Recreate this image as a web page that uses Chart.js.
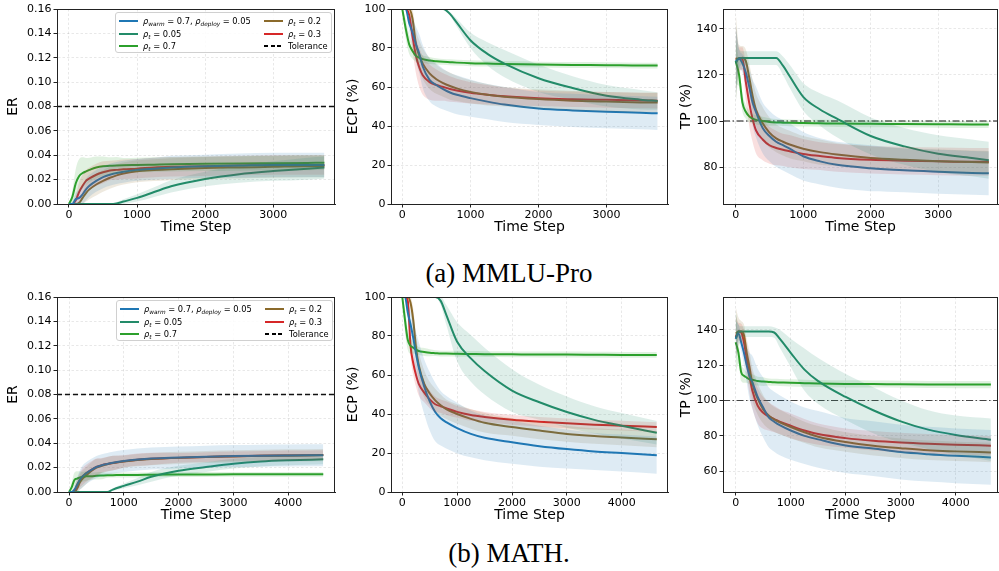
<!DOCTYPE html>
<html>
<head>
<meta charset="utf-8">
<script src="https://cdn.jsdelivr.net/npm/chart.js@4.4.1/dist/chart.umd.min.js"></script>
<style>
  body { margin:0; background:#fff; }
  #fig { position:relative; width:999px; height:571px; overflow:hidden; font-family:"DejaVu Sans", sans-serif; }
  .cap { position:absolute; left:0; width:1018px; text-align:center; font-family:"Liberation Serif", serif; font-size:27px; line-height:27px; color:#000; }
  .leg { position:absolute; width:215px; height:39px; border:1px solid #d0d0d0; border-radius:3px; background:rgba(255,255,255,0.85); font-size:8.3px; color:#000; z-index:2; }
  .item { position:absolute; height:10px; line-height:10px; white-space:nowrap; }
  .sw { position:absolute; left:0; top:4px; width:19px; height:2px; }
  .txt { position:absolute; left:24px; top:0; }
  .txt i { font-style:oblique; }
  sub { font-size:70%; vertical-align:-2px; line-height:0; font-style:oblique; }
</style>
</head>
<body>
<div id="fig">
  <div class="cap" style="top:260px">(a) MMLU-Pro</div>
  <div class="cap" style="top:540px">(b) MATH.</div>
</div>
<script>
// time steps
const tMMLU = [0, 50, 100, 150, 200, 250, 300, 400, 500, 600, 700, 800, 1000, 1250, 1500, 2000, 2500, 3000, 3500, 3750];
const tMATH = [0, 50, 100, 150, 200, 250, 300, 400, 500, 600, 700, 800, 1000, 1250, 1500, 2000, 2500, 3000, 3500, 4000, 4640];

const erTolerance = 0.08;
const tpTarget = 100;

// ---- MMLU-Pro : ER
const erMmluWarm = [0, 0, 0.004, 0.005, 0.008, 0.012, 0.015, 0.019, 0.022, 0.024, 0.0255, 0.0265, 0.028, 0.029, 0.030, 0.031, 0.0315, 0.032, 0.032, 0.032];
const erMmluWarmSd = [0, 0.002, 0.005, 0.007, 0.008, 0.009, 0.009, 0.009, 0.009, 0.009, 0.009, 0.009, 0.009, 0.009, 0.0095, 0.0095, 0.01, 0.01, 0.01, 0.01];
const erMmluP005 = [0, 0, 0, 0, 0, 0, 0, 0, 0, 0, 0.0005, 0.002, 0.005, 0.0098, 0.0145, 0.0205, 0.0245, 0.027, 0.029, 0.030];
const erMmluP005Sd = [0, 0, 0, 0, 0, 0, 0, 0, 0, 0, 0.001, 0.002, 0.003, 0.004, 0.005, 0.006, 0.007, 0.008, 0.009, 0.009];
const erMmluP07 = [0, 0.006, 0.017, 0.023, 0.0254, 0.0268, 0.028, 0.030, 0.031, 0.0313, 0.0316, 0.0318, 0.032, 0.0323, 0.0326, 0.033, 0.0333, 0.0335, 0.0337, 0.0338];
const erMmluP07Sd = [0, 0.005, 0.012, 0.014, 0.013, 0.011, 0.010, 0.009, 0.008, 0.007, 0.007, 0.006, 0.006, 0.006, 0.006, 0.006, 0.006, 0.006, 0.006, 0.006];
const erMmluP02 = [0, 0, 0, 0.001, 0.005, 0.009, 0.012, 0.016, 0.019, 0.0215, 0.0235, 0.025, 0.0268, 0.0278, 0.0285, 0.0295, 0.030, 0.0305, 0.031, 0.031];
const erMmluP02Sd = [0, 0, 0, 0.002, 0.005, 0.007, 0.008, 0.009, 0.009, 0.009, 0.009, 0.009, 0.009, 0.009, 0.009, 0.009, 0.009, 0.009, 0.009, 0.009];
const erMmluP03 = [0, 0, 0.003, 0.010, 0.015, 0.019, 0.021, 0.024, 0.026, 0.0275, 0.028, 0.0285, 0.029, 0.030, 0.0305, 0.031, 0.0315, 0.032, 0.032, 0.032];
const erMmluP03Sd = [0, 0, 0.004, 0.008, 0.009, 0.009, 0.009, 0.009, 0.009, 0.008, 0.008, 0.008, 0.008, 0.008, 0.008, 0.008, 0.008, 0.008, 0.008, 0.008];

// ---- MMLU-Pro : ECP (%)
const ecpMmluWarm = [100, 100, 93, 88, 82, 77, 70.5, 63.7, 61, 58.9, 57.2, 56, 54.3, 52.5, 51, 49, 48, 47.3, 46.8, 46.5];
const ecpMmluWarmSd = [0, 0, 4, 7, 9, 10, 11, 11, 11, 10.5, 10, 10, 9.5, 9, 9, 8.5, 8.5, 8.5, 8.5, 8.5];
const ecpMmluP005 = [100, 100, 100, 100, 100, 100, 100, 100, 100, 100, 97.5, 93, 84, 77, 72, 64.5, 59.5, 55.5, 53.5, 52.8];
const ecpMmluP005Sd = [0, 0, 0, 0, 0, 0, 0, 0, 0, 0, 1, 2, 4, 6, 7, 7, 6, 5.5, 5, 4.5];
const ecpMmluP07 = [100, 90, 82, 78.5, 76, 75, 74.3, 73.6, 73.2, 72.9, 72.7, 72.5, 72.2, 72, 71.8, 71.5, 71.3, 71.2, 71, 71];
const ecpMmluP07Sd = [0, 5, 5, 4, 3, 2.5, 2, 1.8, 1.6, 1.5, 1.5, 1.5, 1.5, 1.5, 1.5, 1.5, 1.5, 1.5, 1.5, 1.5];
const ecpMmluP02 = [100, 100, 100, 95, 82, 76, 72, 67, 64, 62, 60.5, 59.3, 57.5, 56, 55, 53.8, 53, 52.5, 52.1, 52];
const ecpMmluP02Sd = [0, 0, 2, 5, 7, 8, 8, 8, 7.5, 7, 7, 6.5, 6, 5.5, 5, 5, 5, 5, 5, 5];
const ecpMmluP03 = [100, 100, 97, 86, 76, 70, 66, 62.5, 61, 60, 59, 58.2, 57, 56, 55.2, 54.2, 53.7, 53.4, 53.1, 53];
const ecpMmluP03Sd = [0, 0, 3, 7, 9, 10, 10, 9, 8, 7, 6.5, 6, 5.5, 5, 4.5, 4, 4, 4, 4, 4];

// ---- MMLU-Pro : TP (%)
const tpMmluWarm = [126, 127, 125, 121, 115, 108, 104, 97, 93.5, 91, 89.5, 88, 84.7, 82.5, 81, 79.5, 78.6, 78, 77.5, 77.3];
const tpMmluWarmSd = [15, 4, 4, 6, 8, 10, 11, 11, 11, 11, 11, 11, 10.5, 10, 10, 10, 9.5, 9.5, 9.5, 9.5];
const tpMmluP005 = [125, 127.3, 127.3, 127.3, 127.3, 127.3, 127.3, 127.3, 127.3, 127.3, 124, 119.4, 110.5, 105, 101, 93.5, 89, 85.8, 84, 83];
const tpMmluP005Sd = [18, 4, 3, 3, 3, 3, 3, 3, 3, 3, 4, 5, 6, 7, 8, 8, 8, 8, 8, 8];
const tpMmluP07 = [126, 120, 108, 104, 102, 101, 100.5, 100, 99.6, 99.4, 99.3, 99.2, 99.1, 99, 98.9, 98.8, 98.7, 98.6, 98.5, 98.5];
const tpMmluP07Sd = [10, 5, 4, 3, 2.5, 2, 2, 1.8, 1.6, 1.5, 1.5, 1.5, 1.5, 1.5, 1.5, 1.5, 1.5, 1.5, 1.5, 1.5];
const tpMmluP02 = [127, 127, 127.5, 126, 119, 111, 105, 99, 95, 92.5, 91, 89.8, 88, 86.5, 85.5, 84, 83.2, 82.6, 82.2, 82];
const tpMmluP02Sd = [20, 6, 5, 5, 6, 7, 7, 7, 6.5, 6, 6, 6, 5.5, 5.5, 5, 5, 5, 5, 5, 5];
const tpMmluP03 = [127, 127, 127, 117, 108, 101, 96, 92, 89.5, 88.3, 87.5, 86.9, 85.7, 84.8, 84, 83.2, 82.8, 82.5, 82.3, 82.3];
const tpMmluP03Sd = [15, 5, 5, 8, 10, 10, 10, 9, 8, 7.5, 7, 7, 6.5, 6, 6, 6, 6, 6, 6, 6];

// ---- MATH : ER
const erMathWarm = [0, 0, 0.002, 0.006, 0.010, 0.013, 0.015, 0.018, 0.0205, 0.022, 0.023, 0.024, 0.0255, 0.0267, 0.0275, 0.0283, 0.029, 0.0295, 0.0298, 0.030, 0.0302];
const erMathWarmSd = [0, 0, 0.003, 0.006, 0.008, 0.009, 0.009, 0.009, 0.009, 0.009, 0.009, 0.009, 0.009, 0.009, 0.009, 0.009, 0.009, 0.009, 0.009, 0.009, 0.009];
const erMathP005 = [0, 0, 0, 0, 0, 0, 0, 0, 0, 0, 0, 0.002, 0.005, 0.0085, 0.0125, 0.0175, 0.0205, 0.0232, 0.025, 0.026, 0.0268];
const erMathP005Sd = [0, 0, 0, 0, 0, 0, 0, 0, 0, 0, 0, 0.001, 0.002, 0.003, 0.004, 0.004, 0.004, 0.004, 0.004, 0.004, 0.004];
const erMathP07 = [0, 0.004, 0.010, 0.011, 0.012, 0.0125, 0.013, 0.013, 0.0133, 0.0135, 0.0137, 0.0138, 0.014, 0.014, 0.0142, 0.0143, 0.0144, 0.0145, 0.0145, 0.0145, 0.0145];
const erMathP07Sd = [0, 0.004, 0.006, 0.006, 0.005, 0.004, 0.004, 0.003, 0.003, 0.003, 0.002, 0.002, 0.002, 0.002, 0.002, 0.002, 0.002, 0.002, 0.002, 0.002, 0.002];
const erMathP02 = [0, 0, 0, 0.003, 0.008, 0.011, 0.013, 0.017, 0.020, 0.0215, 0.0228, 0.0237, 0.025, 0.0262, 0.027, 0.028, 0.0287, 0.0292, 0.0297, 0.030, 0.0303];
const erMathP02Sd = [0, 0, 0, 0.004, 0.006, 0.007, 0.007, 0.007, 0.007, 0.006, 0.006, 0.006, 0.005, 0.005, 0.005, 0.005, 0.005, 0.005, 0.005, 0.005, 0.005];
const erMathP03 = [0, 0, 0.001, 0.006, 0.010, 0.013, 0.015, 0.018, 0.0205, 0.022, 0.023, 0.0238, 0.0252, 0.0265, 0.0272, 0.028, 0.0287, 0.0293, 0.0297, 0.030, 0.0303];
const erMathP03Sd = [0, 0, 0.002, 0.005, 0.006, 0.007, 0.007, 0.007, 0.007, 0.006, 0.006, 0.006, 0.005, 0.005, 0.005, 0.004, 0.004, 0.004, 0.004, 0.004, 0.004];

// ---- MATH : ECP (%)
const ecpMathWarm = [100, 100, 92, 86, 79, 71, 64, 54, 46.5, 41, 37.8, 35.8, 32.8, 29.8, 27.8, 25.5, 23.5, 22, 20.8, 20, 18.9];
const ecpMathWarmSd = [0, 0, 4, 7, 9, 11, 13, 14, 15, 15, 14, 13.5, 13, 12, 11.5, 11, 10.5, 10, 9.5, 9.5, 9.5];
const ecpMathP005 = [100, 100, 100, 100, 100, 100, 100, 100, 100, 100, 98, 91, 77, 68.5, 62, 52, 46, 41, 37, 34, 30.4];
const ecpMathP005Sd = [0, 0, 0, 0, 0, 0, 0, 0, 0, 0, 2, 5, 10, 12, 12, 11, 9, 8, 7, 6.5, 6];
const ecpMathP07 = [100, 88, 78, 75, 74, 73, 72.3, 71.8, 71.4, 71.2, 71, 71, 70.9, 70.8, 70.7, 70.6, 70.5, 70.5, 70.4, 70.3, 70.3];
const ecpMathP07Sd = [0, 6, 5, 4, 3, 2.5, 2, 2, 1.8, 1.5, 1.5, 1.5, 1.5, 1.5, 1.5, 1.5, 1.5, 1.5, 1.5, 1.5, 1.5];
const ecpMathP02 = [100, 100, 100, 97, 88, 74, 65, 55.5, 50.5, 47, 44.5, 42.5, 40, 37.5, 35.5, 33.3, 31.5, 29.8, 28.7, 28, 27];
const ecpMathP02Sd = [0, 0, 0, 3, 6, 7, 7, 7, 6, 6, 5.5, 5, 5, 5, 5, 4.5, 4.5, 4, 4, 4, 4];
const ecpMathP03 = [100, 100, 98, 75, 66, 60, 55.5, 51, 47.5, 45, 44, 43, 41.1, 39.5, 38.5, 37, 36, 35.2, 34.5, 34, 33.3];
const ecpMathP03Sd = [0, 0, 2, 5, 6, 6, 6, 5, 4.5, 4, 3.5, 3.5, 3, 3, 2.5, 2.5, 2.5, 2.5, 2.5, 2.5, 2.5];

// ---- MATH : TP (%)
const tpMathWarm = [135, 138, 133, 127, 120, 114, 110.5, 102, 96, 90.5, 88, 86, 83, 80, 78, 74.5, 72.8, 70.8, 69.6, 68.7, 67.8];
const tpMathWarmSd = [10, 5, 5, 7, 10, 13, 15, 16, 17, 17, 17, 17, 16.5, 16, 16, 15.5, 15.5, 15.5, 15.5, 15.5, 15.5];
const tpMathP005 = [135, 139, 139, 139, 139, 139, 139, 139, 139, 139, 138.5, 135, 127, 117.5, 111, 102, 94.5, 88.2, 83.5, 80.5, 77.8];
const tpMathP005Sd = [15, 4, 3, 3, 3, 3, 3, 3, 3, 3, 3, 5, 8, 12, 13, 13, 13, 12, 11, 11, 12];
const tpMathP07 = [133, 127, 116, 114, 113, 112, 111.8, 111, 110.7, 110.5, 110.3, 110.2, 110, 109.8, 109.6, 109.4, 109.3, 109.2, 109.1, 109, 109];
const tpMathP07Sd = [18, 6, 5, 4, 3, 3, 3, 2.5, 2.5, 2, 2, 2, 2, 2, 2, 2, 2, 2, 2, 2, 2];
const tpMathP02 = [138, 139, 139, 137, 127, 119, 110, 101, 95, 91.5, 89.3, 87.7, 85, 82, 79.5, 76.5, 74.4, 73, 71.8, 71.2, 70.6];
const tpMathP02Sd = [15, 8, 6, 6, 8, 9, 9, 9, 8, 7.5, 7, 7, 6.5, 6, 6, 5.5, 5.5, 5.5, 5.5, 5.5, 5.5];
const tpMathP03 = [136, 139, 138.5, 133, 123.5, 114, 106, 97, 93, 91, 89.5, 88, 85.7, 83, 81, 78.7, 77.2, 76.2, 75.5, 75, 74.4];
const tpMathP03Sd = [12, 5, 5, 7, 9, 10, 10, 10, 9, 8, 7.5, 7, 7, 6.5, 6, 5.5, 5.5, 5.5, 5.5, 5.5, 5.5];

// tick labels
const xTicksMmlu = [0, 1000, 2000, 3000];
const xTicksMath = [0, 1000, 2000, 3000, 4000];
const erTicks = [0, 0.02, 0.04, 0.06, 0.08, 0.10, 0.12, 0.14, 0.16];
const ecpTicks = [0, 20, 40, 60, 80, 100];
const tpTicksMmlu = [80, 100, 120, 140];
const tpTicksMath = [60, 80, 100, 120, 140];

// colours, in legend order: warm, 0.05, 0.7, 0.2, 0.3
const colors = ['#1f77b4', '#238b69', '#2ca02c', '#8b6a2b', '#d62728'];
const legendLabels = [
  '<i>ρ</i><sub>warm</sub> = 0.7, <i>ρ</i><sub>deploy</sub> = 0.05',
  '<i>ρ</i><sub>t</sub> = 0.05',
  '<i>ρ</i><sub>t</sub> = 0.7',
  '<i>ρ</i><sub>t</sub> = 0.2',
  '<i>ρ</i><sub>t</sub> = 0.3',
  'Tolerance'
];

Chart.defaults.font.family = "'DejaVu Sans', sans-serif";
Chart.defaults.color = '#000';

function rgba(hex, a) {
  const n = parseInt(hex.slice(1), 16);
  return `rgba(${n >> 16},${(n >> 8) & 255},${n & 255},${a})`;
}

const frame = {
  id: 'frame',
  afterDraw(chart) {
    const a = chart.chartArea, ctx = chart.ctx;
    ctx.save();
    ctx.strokeStyle = '#222';
    ctx.lineWidth = 1;
    ctx.strokeRect(Math.round(a.left) + 0.5, Math.round(a.top) + 0.5,
      Math.round(a.right - a.left) - 1, Math.round(a.bottom - a.top));
    ctx.restore();
  }
};

const fig = document.getElementById('fig');

function makePanel(p) {
  const cv = document.createElement('canvas');
  cv.width = p.w; cv.height = p.h;
  cv.style.cssText = `position:absolute;left:${p.left}px;top:${p.top}px;width:${p.w}px;height:${p.h}px`;
  fig.appendChild(cv);

  const datasets = [];
  // shaded bands first
  p.series.forEach((s, k) => {
    const [mean, sd] = s;
    datasets.push({
      data: p.t.map((x, i) => ({x, y: mean[i] + sd[i]})),
      borderWidth: 0, borderColor: 'transparent', pointRadius: 0,
      cubicInterpolationMode: 'monotone', fill: false
    });
    datasets.push({
      data: p.t.map((x, i) => ({x, y: mean[i] - sd[i]})),
      borderWidth: 0, borderColor: 'transparent', pointRadius: 0,
      cubicInterpolationMode: 'monotone', fill: '-1',
      backgroundColor: rgba(colors[k], 0.15)
    });
  });
  // mean lines on top
  p.series.forEach((s, k) => {
    datasets.push({
      data: p.t.map((x, i) => ({x, y: s[0][i]})),
      borderColor: colors[k], borderWidth: 2, pointRadius: 0,
      cubicInterpolationMode: 'monotone', fill: false
    });
  });
  // reference line
  datasets.push({
    data: [{x: p.xMin, y: p.ref}, {x: p.xMax, y: p.ref}],
    borderColor: p.refColor, borderWidth: p.refWidth, borderDash: p.refDash,
    pointRadius: 0, fill: false
  });

  new Chart(cv, {
    type: 'line',
    data: {datasets},
    options: {
      responsive: false, animation: false, devicePixelRatio: 1,
      layout: {padding: {top: 9, right: p.padRight, left: 0, bottom: 0}},
      plugins: {legend: {display: false}, tooltip: {enabled: false}},
      scales: {
        x: {
          type: 'linear', min: p.xMin, max: p.xMax,
          afterBuildTicks: s => { s.ticks = p.xTicks.map(v => ({value: v})); },
          afterFit: s => { s.height = 36; },
          ticks: {font: {size: 11}, color: '#000', padding: 1, maxRotation: 0, callback: v => String(v)},
          grid: {color: 'rgba(0,0,0,0.09)', tickColor: '#222', tickLength: 3.5, tickWidth: 1, tickBorderDash: []},
          border: {color: '#222', dash: [2.5, 2]},
          title: {display: true, text: 'Time Step', font: {size: 14}, color: '#000', padding: 4}
        },
        y: {
          type: 'linear', min: p.yMin, max: p.yMax,
          afterBuildTicks: s => { s.ticks = p.yTicks.map(v => ({value: v})); },
          afterFit: s => { s.width = p.yW; },
          ticks: {font: {size: 11}, color: '#000', padding: 2, callback: p.yFmt},
          grid: {color: 'rgba(0,0,0,0.09)', tickColor: '#222', tickLength: 3.5, tickWidth: 1, tickBorderDash: []},
          border: {color: '#222', dash: [2.5, 2]},
          title: {display: true, text: p.yTitle, font: {size: 14}, color: '#000', padding: p.titlePad}
        }
      }
    },
    plugins: [frame]
  });
}

function makeLegend(left, top) {
  const box = document.createElement('div');
  box.className = 'leg';
  box.style.left = left + 'px';
  box.style.top = top + 'px';
  const rows = [2.5, 15.5, 28];
  legendLabels.forEach((lab, k) => {
    const col = k < 3 ? 0 : 1, row = k % 3;
    const it = document.createElement('div');
    it.className = 'item';
    it.style.left = (col ? 148 : 3) + 'px';
    it.style.top = rows[row] + 'px';
    const sw = document.createElement('span');
    sw.className = 'sw';
    if (k < 5) sw.style.background = colors[k];
    else { sw.style.background = 'repeating-linear-gradient(90deg,#000 0 4px,transparent 4px 6.5px)'; sw.style.height = '1.5px'; }
    const tx = document.createElement('span');
    tx.className = 'txt';
    tx.innerHTML = lab;
    it.appendChild(sw); it.appendChild(tx);
    box.appendChild(it);
  });
  fig.appendChild(box);
}

const fix2 = v => v.toFixed(2);
const plain = v => String(v);

const panels = [
  {left: 0, top: 0, w: 340, h: 240, yW: 57, padRight: 5, t: tMMLU, xMin: -176, xMax: 3906, xTicks: xTicksMmlu,
   yMin: 0, yMax: 0.16, yTicks: erTicks, yFmt: fix2, yTitle: 'ER', titlePad: 5,
   ref: erTolerance, refColor: '#111', refWidth: 1.4, refDash: [5, 3],
   series: [[erMmluWarm, erMmluWarmSd], [erMmluP005, erMmluP005Sd], [erMmluP07, erMmluP07Sd], [erMmluP02, erMmluP02Sd], [erMmluP03, erMmluP03Sd]]},
  {left: 340, top: 0, w: 330, h: 240, yW: 51, padRight: 2, t: tMMLU, xMin: -166, xMax: 3902, xTicks: xTicksMmlu,
   yMin: 0, yMax: 100, yTicks: ecpTicks, yFmt: plain, yTitle: 'ECP (%)', titlePad: 4.5,
   ref: -1000, refColor: 'transparent', refWidth: 0, refDash: [],
   series: [[ecpMmluWarm, ecpMmluWarmSd], [ecpMmluP005, ecpMmluP005Sd], [ecpMmluP07, ecpMmluP07Sd], [ecpMmluP02, ecpMmluP02Sd], [ecpMmluP03, ecpMmluP03Sd]]},
  {left: 670, top: 0, w: 329, h: 240, yW: 53, padRight: 1, t: tMMLU, xMin: -188, xMax: 3886, xTicks: xTicksMmlu,
   yMin: 64, yMax: 148.6, yTicks: tpTicksMmlu, yFmt: plain, yTitle: 'TP (%)', titlePad: 7.5,
   ref: tpTarget, refColor: '#111', refWidth: 1.1, refDash: [7, 2.5, 1.5, 2.5],
   series: [[tpMmluWarm, tpMmluWarmSd], [tpMmluP005, tpMmluP005Sd], [tpMmluP07, tpMmluP07Sd], [tpMmluP02, tpMmluP02Sd], [tpMmluP03, tpMmluP03Sd]]},
  {left: 0, top: 288, w: 340, h: 240, yW: 57, padRight: 5, t: tMATH, xMin: -219, xMax: 4854, xTicks: xTicksMath,
   yMin: 0, yMax: 0.16, yTicks: erTicks, yFmt: fix2, yTitle: 'ER', titlePad: 5,
   ref: erTolerance, refColor: '#111', refWidth: 1.4, refDash: [5, 3],
   series: [[erMathWarm, erMathWarmSd], [erMathP005, erMathP005Sd], [erMathP07, erMathP07Sd], [erMathP02, erMathP02Sd], [erMathP03, erMathP03Sd]]},
  {left: 340, top: 288, w: 330, h: 240, yW: 51, padRight: 2, t: tMATH, xMin: -206, xMax: 4844, xTicks: xTicksMath,
   yMin: 0, yMax: 100, yTicks: ecpTicks, yFmt: plain, yTitle: 'ECP (%)', titlePad: 4.5,
   ref: -1000, refColor: 'transparent', refWidth: 0, refDash: [],
   series: [[ecpMathWarm, ecpMathWarmSd], [ecpMathP005, ecpMathP005Sd], [ecpMathP07, ecpMathP07Sd], [ecpMathP02, ecpMathP02Sd], [ecpMathP03, ecpMathP03Sd]]},
  {left: 670, top: 288, w: 329, h: 240, yW: 53, padRight: 1, t: tMATH, xMin: -231, xMax: 4769, xTicks: xTicksMath,
   yMin: 48.2, yMax: 158.6, yTicks: tpTicksMath, yFmt: plain, yTitle: 'TP (%)', titlePad: 7.5,
   ref: tpTarget, refColor: '#444', refWidth: 1.1, refDash: [7, 2.5, 1.5, 2.5],
   series: [[tpMathWarm, tpMathWarmSd], [tpMathP005, tpMathP005Sd], [tpMathP07, tpMathP07Sd], [tpMathP02, tpMathP02Sd], [tpMathP03, tpMathP03Sd]]}
];

panels.forEach(makePanel);
makeLegend(115, 12);
makeLegend(116, 300);
</script>
</body>
</html>
